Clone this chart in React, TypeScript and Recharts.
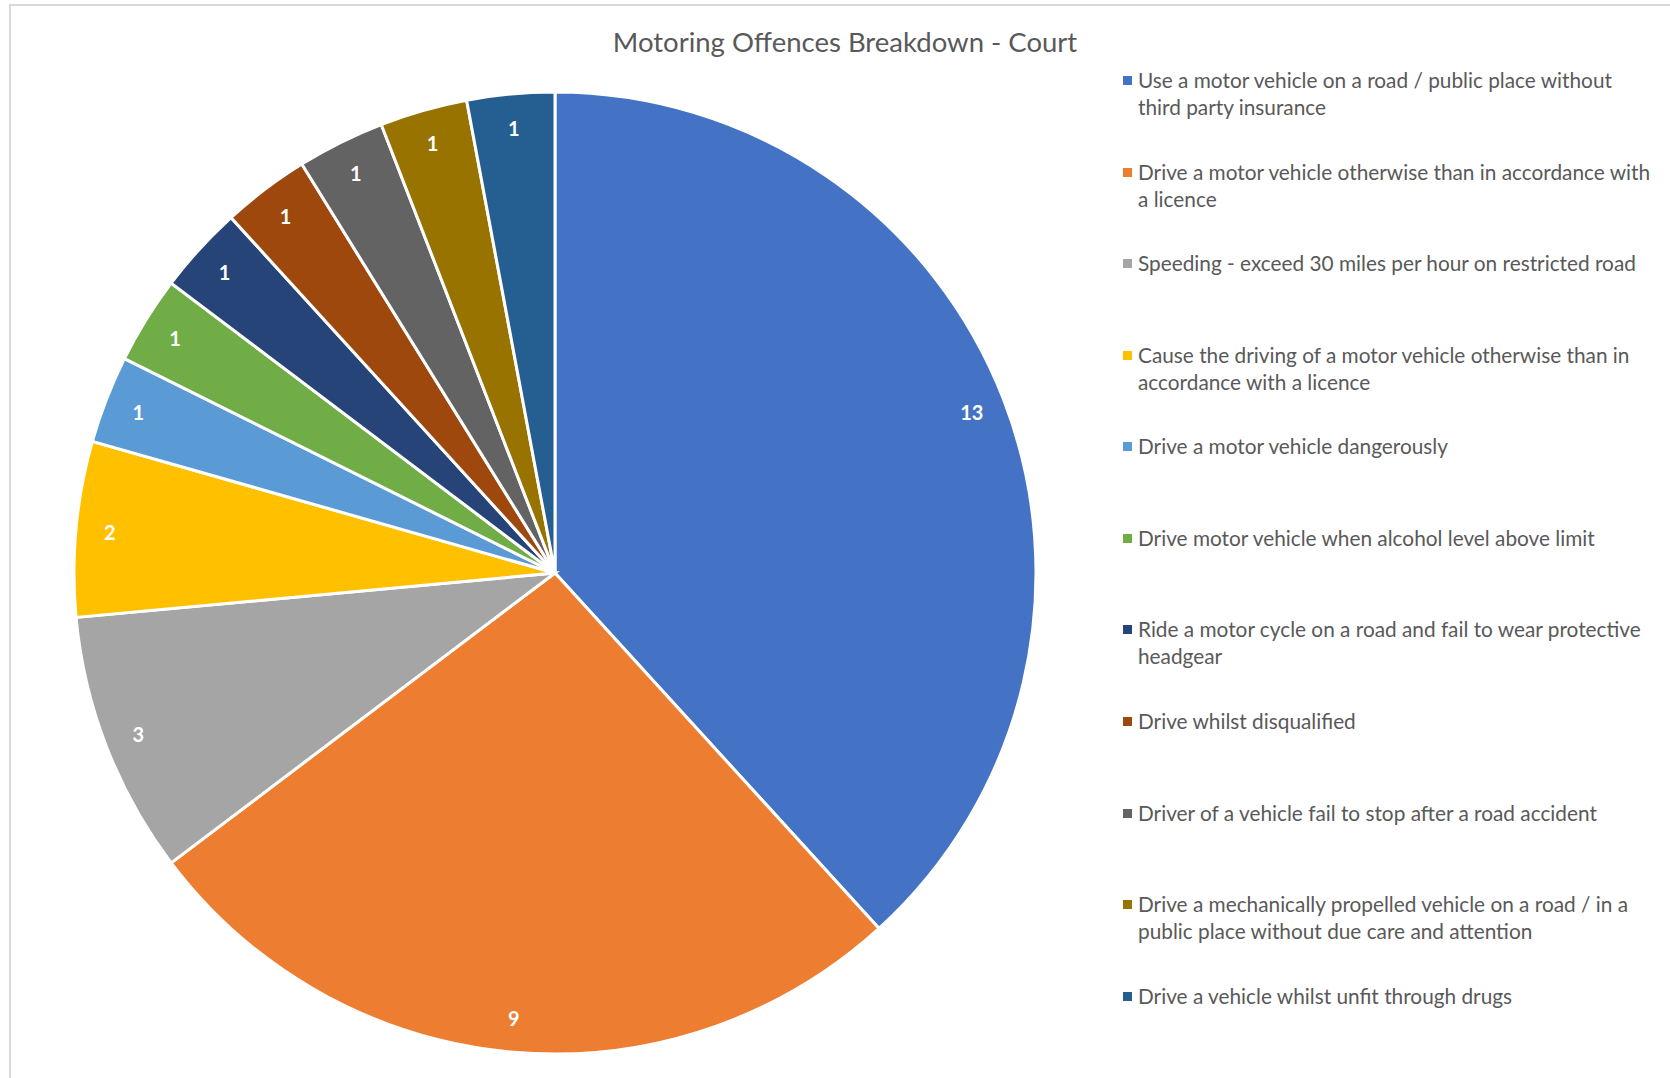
import React from "react";
import { PieChart, Pie, Cell, Legend } from "recharts";

const categories: string[] = [
  "Use a motor vehicle on a road / public place without\nthird party insurance",
  "Drive a motor vehicle otherwise than in accordance with\na licence",
  "Speeding - exceed 30 miles per hour on restricted road",
  "Cause the driving of a motor vehicle otherwise than in\naccordance with a licence",
  "Drive a motor vehicle dangerously",
  "Drive motor vehicle when alcohol level above limit",
  "Ride a motor cycle on a road and fail to wear protective\nheadgear",
  "Drive whilst disqualified",
  "Driver of a vehicle fail to stop after a road accident",
  "Drive a mechanically propelled vehicle on a road / in a\npublic place without due care and attention",
  "Drive a vehicle whilst unfit through drugs",
];

const counts: number[] = [13, 9, 3, 2, 1, 1, 1, 1, 1, 1, 1];

const colors: string[] = [
  "#4472C4",
  "#ED7D31",
  "#A5A5A5",
  "#FFC000",
  "#5B9BD5",
  "#70AD47",
  "#264478",
  "#9E480E",
  "#636363",
  "#997300",
  "#255E91",
];

const title = "Motoring Offences Breakdown - Court";

const data = categories.map((name, i) => ({ name, value: counts[i] }));

const FONT = "Lato, 'Open Sans', sans-serif";
const RAD = Math.PI / 180;

const renderLabel = (props: any) => {
  const { cx, cy, midAngle, outerRadius, value } = props;
  const r = outerRadius - 34;
  const x = cx + r * Math.cos(-midAngle * RAD);
  const y = cy + r * Math.sin(-midAngle * RAD);
  return (
    <text
      x={x}
      y={y}
      fill="#ffffff"
      textAnchor="middle"
      dominantBaseline="central"
      style={{ fontFamily: FONT, fontSize: 20, fontWeight: 700 }}
    >
      {value}
    </text>
  );
};

const LegendContent = () => {
  return (
    <div style={{ position: "relative", width: 545, height: 1000 }}>
      {data.map((entry, i) => (
        <div
          key={i}
          style={{
            position: "absolute",
            left: 0,
            top: i * 91.57,
            display: "flex",
            alignItems: "flex-start",
          }}
        >
          <div
            style={{
              width: 9,
              height: 9,
              background: colors[i],
              marginTop: 10,
              marginRight: 6,
              flex: "none",
            }}
          />
          <div
            style={{
              fontFamily: FONT,
              fontSize: 20.8,
              lineHeight: "27px",
              color: "#595959",
              whiteSpace: "pre-line",
            }}
          >
            {entry.name}
          </div>
        </div>
      ))}
    </div>
  );
};

export default function App() {
  return (
    <div
      style={{
        position: "fixed",
        left: 0,
        top: 0,
        width: 1670,
        height: 1078,
        background: "#ffffff",
        overflow: "hidden",
      }}
    >
      <div
        style={{
          position: "absolute",
          left: 9,
          top: 4,
          width: 1700,
          height: 1100,
          border: "2px solid #d9d9d9",
          boxSizing: "border-box",
        }}
      />
      <div
        style={{
          position: "absolute",
          left: 0,
          top: 24,
          width: 1690,
          textAlign: "center",
          fontFamily: FONT,
          fontSize: 27.5,
          color: "#595959",
          lineHeight: "36px",
        }}
      >
        {title}
      </div>
      <div style={{ position: "absolute", left: 0, top: 0 }}>
        <PieChart width={1670} height={1078} margin={{ top: 0, right: 0, bottom: 0, left: 0 }}>
          <Pie
            data={data}
            dataKey="value"
            nameKey="name"
            cx={555}
            cy={573}
            outerRadius={481}
            startAngle={90}
            endAngle={-270}
            stroke="#ffffff"
            strokeWidth={3}
            label={renderLabel}
            labelLine={false}
            isAnimationActive={false}
          >
            {data.map((d, i) => (
              <Cell key={i} fill={colors[i]} />
            ))}
          </Pie>
          <Legend
            layout="vertical"
            content={<LegendContent />}
            wrapperStyle={{ position: "absolute", left: 1123, top: 66, width: 545 }}
          />
        </PieChart>
      </div>
    </div>
  );
}
